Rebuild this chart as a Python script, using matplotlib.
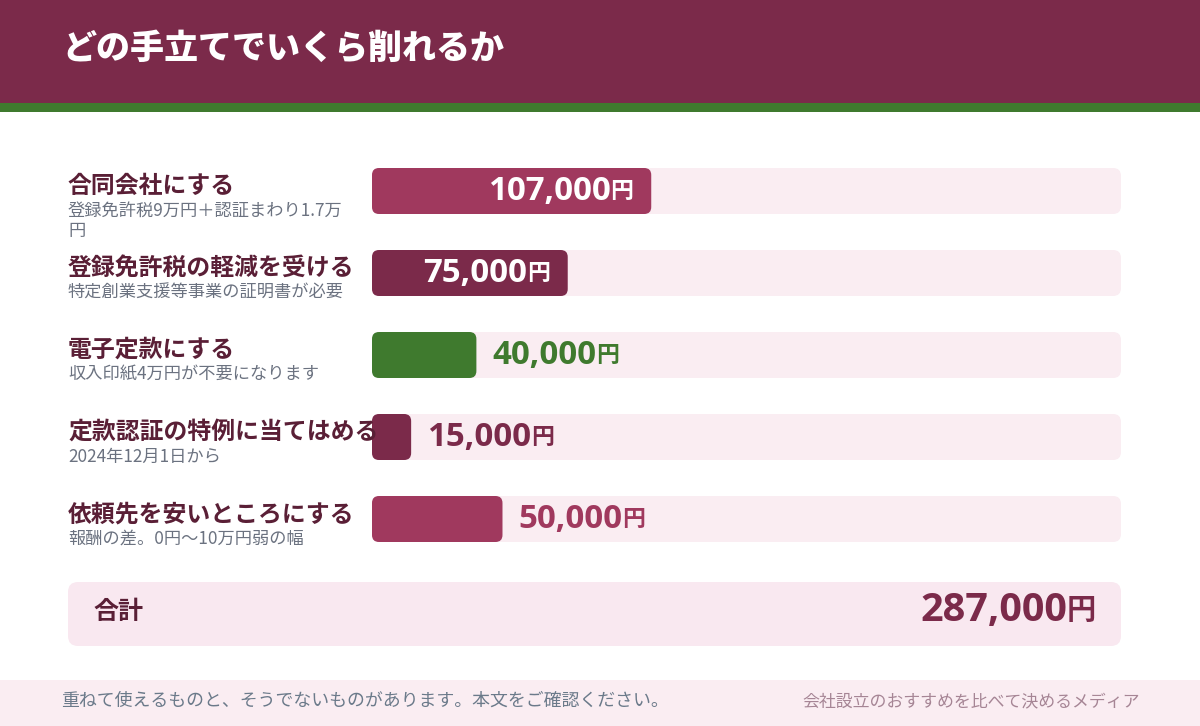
import matplotlib
matplotlib.use("Agg")
import matplotlib.pyplot as plt
from matplotlib.patches import FancyBboxPatch, Rectangle

plt.rcParams['font.family'] = ['Noto Sans CJK JP', 'DejaVu Sans']

# Data
labels = ["合同会社にする", "登録免許税の軽減を受ける", "電子定款にする",
          "定款認証の特例に当てはめる", "依頼先を安いところにする"]
notes = ["登録免許税9万円＋認証まわり1.7万\n円", "特定創業支援等事業の証明書が必要",
         "収入印紙4万円が不要になります", "2024年12月1日から", "報酬の差。0円〜10万円弱の幅"]
values = [107000, 75000, 40000, 15000, 50000]
bar_colors = ["#A0395E", "#7B2A4A", "#3F7A2E", "#7B2A4A", "#A0395E"]
total = sum(values)
title = "どの手立てでいくら削れるか"
footer_left = "重ねて使えるものと、そうでないものがあります。本文をご確認ください。"
footer_right = "会社設立のおすすめを比べて決めるメディア"

W, H = 1200, 726
fig = plt.figure(figsize=(W / 100, H / 100), dpi=100)
ax = fig.add_axes([0, 0, 1, 1])
ax.set_xlim(0, W)
ax.set_ylim(H, 0)
ax.axis("off")
renderer = fig.canvas.get_renderer()


def yen_label(x, y, v, color, size, yen_size, align):
    # digits in a wide latin face, the yen sign in the CJK face
    num = ax.text(0, y, f"{v:,}", color=color, fontsize=size, fontweight="bold",
                  family="Open Sans", va="center", ha="left")
    yen = ax.text(0, y, "円", color=color, fontsize=yen_size, fontweight="bold",
                  va="center", ha="left")
    nw = num.get_window_extent(renderer).width
    yw = yen.get_window_extent(renderer).width
    start = x if align == "left" else x - nw - yw
    num.set_x(start)
    yen.set_x(start + nw)


# Header
ax.add_patch(Rectangle((0, 0), W, 103, color="#7B2A4A", lw=0))
ax.add_patch(Rectangle((0, 103), W, 9, color="#3F7A2E", lw=0))
ax.text(62, 49, title, color="white", fontsize=24.5, fontweight="heavy", va="center")

# Bars
x0, track_w, bar_h = 372, 749, 46
tops = [168, 250, 332, 414, 496]
for lab, note, v, c, top in zip(labels, notes, values, bar_colors, tops):
    ax.add_patch(FancyBboxPatch((x0, top), track_w, bar_h,
                                boxstyle="round,pad=0,rounding_size=8",
                                fc="#FAEDF2", ec="none"))
    w = v / total * track_w
    ax.add_patch(FancyBboxPatch((x0, top), w, bar_h,
                                boxstyle="round,pad=0,rounding_size=7",
                                fc=c, ec="none"))
    if v / total > 0.2:
        yen_label(x0 + w - 18, top + bar_h / 2, v, "white", 23.8, 16.5, "right")
    else:
        yen_label(x0 + w + 16, top + bar_h / 2, v, c, 23.8, 16.5, "left")
    ax.text(68, top + 18, lab, color="#5A1F36", fontsize=17.2, fontweight="bold",
            va="center")
    ax.text(68, top + 34, note, color="#6B7280", fontsize=12.4, va="top",
            linespacing=1.12)

# Total
ax.add_patch(FancyBboxPatch((68, 582), 1053, 64,
                            boxstyle="round,pad=0,rounding_size=10",
                            fc="#F9E8F0", ec="none"))
ax.text(93, 612, "合計", color="#5A1F36", fontsize=18, fontweight="bold", va="center")
yen_label(1096, 610, total, "#7B2A4A", 28.5, 21, "right")

# Footer
ax.add_patch(Rectangle((0, 680), W, 46, color="#FAEDF2", lw=0))
ax.text(61, 701, footer_left, color="#6B7A8A", fontsize=12.9, va="center")
ax.text(1140, 701, footer_right, color="#A68595", fontsize=12.2, va="center", ha="right")

fig.savefig("out.png", dpi=100)
